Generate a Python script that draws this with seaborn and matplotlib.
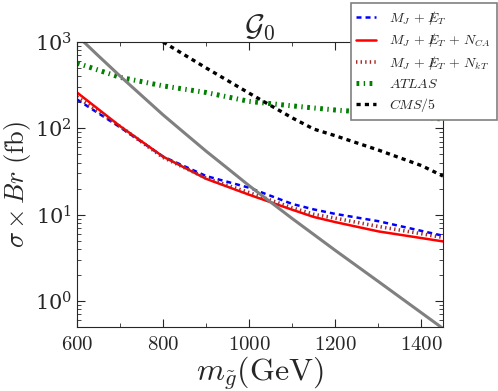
import matplotlib
matplotlib.use("Agg")
import matplotlib.pyplot as plt
import seaborn as sns
from matplotlib.ticker import MultipleLocator, LogLocator, NullFormatter

# gluino mass points (GeV)
masses = [600, 700, 800, 900, 1000, 1100, 1150, 1200, 1300, 1450]
mj_met = [216, 103, 47, 28, 20.5, 13.3, 11.5, 10.2, 8.4, 5.7]
mj_met_nca = [260, 106, 47, 26, 17, 11.4, 9.4, 8.2, 6.4, 4.9]
mj_met_nkt = [232, 105, 46, 26.5, 18, 12, 10.1, 9.1, 7.3, 5.45]
atlas = [570, 390, 310, 260, 205, 182, 172, 163, 150, 128]

cms_mass = [800, 900, 1000, 1100, 1150, 1200, 1300, 1400, 1450]
cms_over5 = [1000, 500, 255, 132, 98, 82, 56, 37, 28]

theory_mass = [600, 650, 700, 750, 800, 850, 900, 950, 1000, 1100, 1200, 1300, 1450]
theory_xsec = [1190, 689, 403, 240, 143, 88, 54.3, 34.3, 21.6, 9.0, 3.85, 1.68, 0.48]

sns.set_style('ticks')
plt.rcParams['font.family'] = ['serif']
plt.rcParams['mathtext.fontset'] = 'cm'
plt.rcParams['xtick.direction'] = 'in'
plt.rcParams['ytick.direction'] = 'in'
plt.rcParams['xtick.top'] = True
plt.rcParams['ytick.right'] = True
plt.rcParams['lines.scale_dashes'] = False  # old-style dash patterns, in points

fig = plt.figure(figsize=(4.98, 3.91), dpi=100)
ax = fig.add_axes([0.1546, 0.1637, 0.7350, 0.7289])

met = r'/\!\!\!\!E_T'
sns.lineplot(x=masses, y=mj_met, ax=ax, color='blue', lw=1.8,
             label=r'$M_J\,+\,' + met + '$').lines[-1].set_dashes((3.6, 2.9))
sns.lineplot(x=masses, y=mj_met_nca, ax=ax, color='red', lw=1.8,
             label=r'$M_J\,+\,' + met + r'\,+\,N_{CA}$')
sns.lineplot(x=masses, y=mj_met_nkt, ax=ax, color='#a52a2a', lw=2.6,
             label=r'$M_J\,+\,' + met + r'\,+\,N_{kT}$').lines[-1].set_dashes((1.0, 2.3))
sns.lineplot(x=masses, y=atlas, ax=ax, color='green', lw=3.6,
             label=r'$ATLAS$').lines[-1].set_dashes((2.0, 3.2, 1.0, 3.2))
sns.lineplot(x=cms_mass, y=cms_over5, ax=ax, color='black', lw=2.4,
             label=r'$CMS/5$').lines[-1].set_dashes((3.0, 3.0))
sns.lineplot(x=theory_mass, y=theory_xsec, ax=ax, color='gray', lw=2.2)

ax.set_yscale('log')
ax.set_xlim(600, 1450)
ax.set_ylim(0.5, 1000)
ax.xaxis.set_minor_locator(MultipleLocator(100))
ax.yaxis.set_minor_locator(LogLocator(base=10, subs=range(2, 10)))
ax.yaxis.set_minor_formatter(NullFormatter())
ax.set_xticks([600, 800, 1000, 1200, 1400])
ax.set_xticklabels([f'${v}$' for v in [600, 800, 1000, 1200, 1400]])
ax.tick_params(which='major', length=6, labelsize=15)
ax.tick_params(which='minor', length=3)
ax.tick_params(axis='x', pad=6)

ax.set_xlabel(r'$m_{\tilde{g}}(\mathrm{GeV})$', fontsize=23, labelpad=0)
ax.set_ylabel(r'$\sigma \times Br\ (\mathrm{fb})$', fontsize=19)
ax.yaxis.set_label_coords(-0.12, 0.5)
ax.set_title(r'$\mathcal{G}_0$', fontsize=22, pad=4)

leg = ax.legend(loc='upper right', bbox_to_anchor=(497 / 498, 1 - 3 / 391),
                bbox_transform=fig.transFigure, fontsize=10, handlelength=1.4,
                handletextpad=1.0, labelspacing=0.35, borderpad=0.4,
                fancybox=False, framealpha=1, edgecolor='gray', borderaxespad=0)
leg.get_frame().set_linewidth(1.2)

fig.savefig('out.png', dpi=100)
